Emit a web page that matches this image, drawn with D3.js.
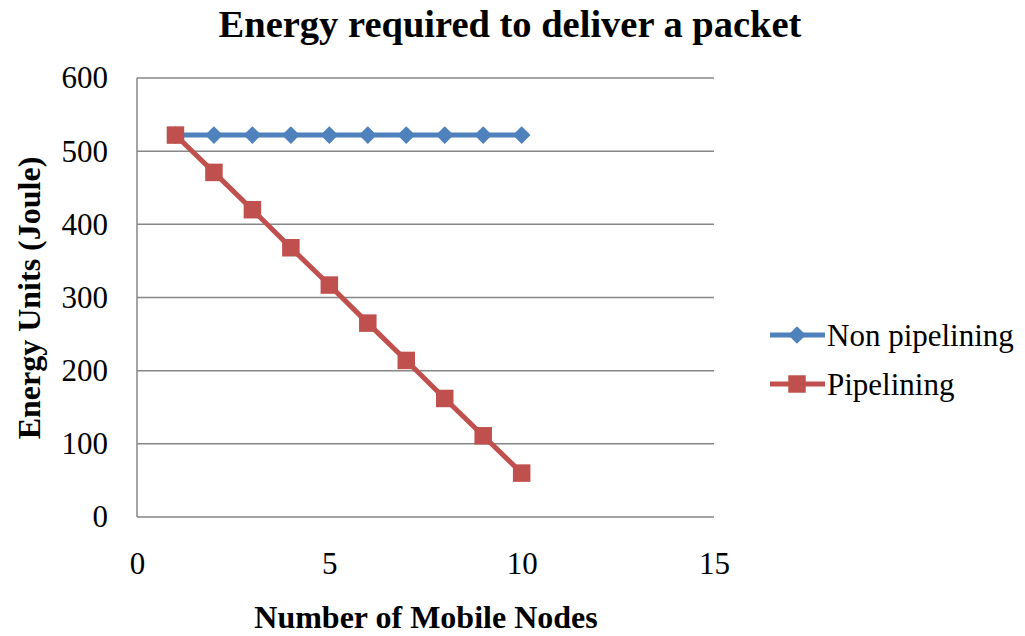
<!DOCTYPE html>
<html>
<head>
<meta charset="utf-8">
<script src="https://cdn.jsdelivr.net/npm/d3@7"></script>
<style>
  body { margin: 0; background: #fff; }
  text { font-family: "Liberation Serif", "Times New Roman", serif; fill: #000; }
</style>
</head>
<body>
<div id="chart"></div>
<script>
// data
const nodes = [1, 2, 3, 4, 5, 6, 7, 8, 9, 10];
const nonPipelining = [522, 522, 522, 522, 522, 522, 522, 522, 522, 522];
const pipelining = [522, 471, 420, 368, 317, 265, 214, 162, 111, 60];
const seriesNames = ["Non pipelining", "Pipelining"];
const seriesColors = ["#4F81BD", "#C0504D"];
const xTicks = [0, 5, 10, 15];
const yTicks = [0, 100, 200, 300, 400, 500, 600];

const width = 1025;
const height = 636;
const margin = { top: 78, right: 311, bottom: 119, left: 137 };

const svg = d3.select("#chart")
  .append("svg")
  .attr("width", width)
  .attr("height", height);

const xScale = d3.scaleLinear()
  .domain([0, 15])
  .range([margin.left, width - margin.right]);

const yScale = d3.scaleLinear()
  .domain([0, 600])
  .range([height - margin.bottom, margin.top]);

// horizontal grid lines
svg.append("g")
  .selectAll("line")
  .data(yTicks)
  .enter()
  .append("line")
  .attr("x1", margin.left)
  .attr("x2", width - margin.right)
  .attr("y1", d => yScale(d))
  .attr("y2", d => yScale(d))
  .attr("stroke", "#868686")
  .attr("stroke-width", 1.5);

// y axis line
svg.append("line")
  .attr("x1", margin.left)
  .attr("x2", margin.left)
  .attr("y1", yScale(0))
  .attr("y2", yScale(600))
  .attr("stroke", "#868686")
  .attr("stroke-width", 1.5);

// y axis
const yAxis = svg.append("g")
  .attr("transform", `translate(${margin.left},0)`)
  .call(d3.axisLeft(yScale).tickValues(yTicks).tickSize(0).tickPadding(29));
yAxis.select(".domain").remove();
yAxis.attr("font-size", 31).attr("font-family", "Liberation Serif, serif");

// x axis
const xAxis = svg.append("g")
  .attr("transform", `translate(0,${yScale(0)})`)
  .call(d3.axisBottom(xScale).tickValues(xTicks).tickSize(0).tickPadding(35));
xAxis.select(".domain").remove();
xAxis.attr("font-size", 31).attr("font-family", "Liberation Serif, serif");

// title and axis labels
svg.append("text")
  .attr("x", 510)
  .attr("y", 37)
  .attr("text-anchor", "middle")
  .attr("font-size", 38.5)
  .attr("font-weight", "bold")
  .text("Energy required to deliver a packet");

svg.append("text")
  .attr("x", 426)
  .attr("y", 628)
  .attr("text-anchor", "middle")
  .attr("font-size", 32)
  .attr("font-weight", "bold")
  .text("Number of Mobile Nodes");

svg.append("text")
  .attr("transform", "rotate(-90)")
  .attr("x", -298)
  .attr("y", 40)
  .attr("text-anchor", "middle")
  .attr("font-size", 32)
  .attr("font-weight", "bold")
  .text("Energy Units (Joule)");

const series = [nonPipelining, pipelining].map((vals, i) => ({
  name: seriesNames[i],
  color: seriesColors[i],
  values: vals.map((v, j) => ({ x: nodes[j], y: v }))
}));

const line = d3.line()
  .x(d => xScale(d.x))
  .y(d => yScale(d.y));

const diamond = d3.symbol().type(d3.symbolDiamond2).size(200);
const square = d3.symbol().type(d3.symbolSquare2).size(390);

// red drawn last so its square sits over the blue diamond at x=1
series.forEach((s, i) => {
  const g = svg.append("g");
  g.append("path")
    .datum(s.values)
    .attr("fill", "none")
    .attr("stroke", s.color)
    .attr("stroke-width", 5)
    .attr("d", line);
  g.selectAll("path.marker")
    .data(s.values)
    .enter()
    .append("path")
    .attr("class", "marker")
    .attr("transform", d => `translate(${xScale(d.x)},${yScale(d.y)})`)
    .attr("d", i === 0 ? diamond : square)
    .attr("fill", s.color);
});

// legend
const legend = svg.append("g");
series.forEach((s, i) => {
  const ly = 335 + i * 49;
  legend.append("line")
    .attr("x1", 770)
    .attr("x2", 825)
    .attr("y1", ly)
    .attr("y2", ly)
    .attr("stroke", s.color)
    .attr("stroke-width", 5);
  legend.append("path")
    .attr("transform", `translate(797,${ly})`)
    .attr("d", i === 0 ? diamond : square)
    .attr("fill", s.color);
  legend.append("text")
    .attr("x", 827)
    .attr("y", ly + 11)
    .attr("font-size", 31)
    .text(s.name);
});
</script>
</body>
</html>
